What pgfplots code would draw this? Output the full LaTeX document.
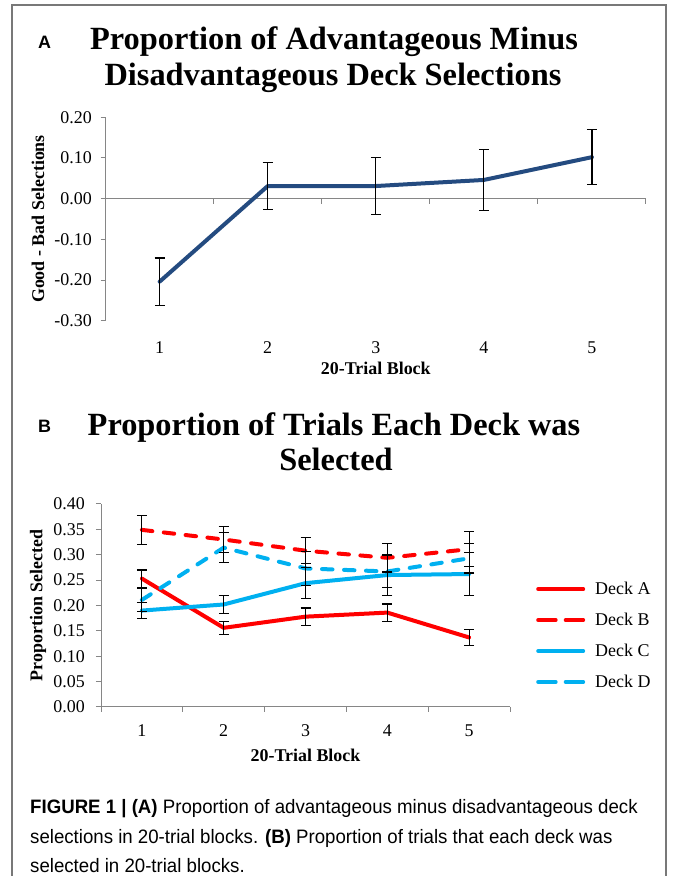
\documentclass[border=0pt]{standalone}
\usepackage{fontspec}
\setmainfont{Liberation Serif}
\newfontfamily\panelfont{Liberation Sans}
\newfontfamily\capfont[FakeStretch=0.96]{Liberation Sans}
\usepackage{pgfplots}
\pgfplotsset{compat=1.18}
\usepackage{pgfplotstable}

\definecolor{lineA}{RGB}{36,75,128}
\definecolor{dred}{RGB}{255,0,0}
\definecolor{dcyan}{RGB}{0,176,240}
\definecolor{framegray}{RGB}{120,120,120}
\definecolor{axgray}{RGB}{134,134,134}

\pgfplotstableread{
x y e
1 -0.204 0.058
2 0.031 0.057
3 0.031 0.070
4 0.046 0.075
5 0.102 0.068
}\dataA

\pgfplotstableread{
x a ea b eb c ec d ed
1 0.253 0.017 0.349 0.029 0.190 0.016 0.211 0.023
2 0.156 0.013 0.330 0.026 0.202 0.018 0.314 0.029
3 0.178 0.017 0.308 0.026 0.244 0.031 0.273 0.034
4 0.186 0.017 0.294 0.028 0.260 0.040 0.267 0.031
5 0.137 0.016 0.311 0.034 0.262 0.043 0.293 0.029
}\dataB

\pgfplotsset{
  common/.style={
    scale only axis,
    anchor=south west,
    xmin=0.5, xmax=5.5,
    axis y line*=left, axis x line*=bottom,
    y axis line style={axgray, line width=1bp},
    xtick={1,2,3,4,5}, xticklabels={1,2,3,4,5},
    xtick style={draw=none},
    ytick style={axgray, line width=1bp},
    tick align=outside,
    major tick length=5bp,
    tick label style={font=\fontsize{18}{20}\selectfont},
    xticklabel style={anchor=center, inner sep=0pt, yshift=-22bp},
    label style={font=\fontsize{18}{20}\selectfont\bfseries},
    clip=false,
  },
  ebar/.style={forget plot, draw=none, mark=none,
    error bars/.cd, y dir=both, y explicit,
    error bar style={draw=black, solid, line width=1.1bp},
    error mark=-,
    error mark options={draw=black, solid, line width=1.1bp, mark size=5bp, rotate=90}},
  solidleg/.style={legend image code/.code={\draw[##1] (2bp,0bp) -- (47bp,0bp); \path (52bp,0bp);}},
  dashleg/.style={legend image code/.code={\draw[##1, dash pattern=on 17.5bp off 10bp] (2bp,0bp) -- (47bp,0bp); \path (52bp,0bp);}},
}

\begin{document}
\begin{tikzpicture}
\useasboundingbox (0,0) rectangle (673bp,876bp);
% frame
\draw[framegray, line width=1.3bp] (12bp,-3bp) -- (12bp,871bp) -- (666bp,871bp) -- (666bp,-3bp);

% Panel A titles
\node[anchor=base west, inner sep=0pt] at (38bp,827.5bp) {\panelfont\bfseries\fontsize{18}{20}\selectfont A};
\node[anchor=base, inner sep=0pt] at (334bp,826bp) {\bfseries\fontsize{32.5}{36}\selectfont Proportion of Advantageous Minus};
\node[anchor=base, inner sep=0pt] at (333bp,790bp) {\bfseries\fontsize{32.5}{36}\selectfont Disadvantageous Deck Selections};

\begin{axis}[common,
  at={(105.6bp,555.3bp)},
  width=540.4bp, height=203.4bp,
  ymin=-0.3, ymax=0.2,
  x axis line style={draw=none},
  ytick={-0.3,-0.2,-0.1,0,0.1,0.2},
  yticklabels={-0.30,-0.20,-0.10,0.00,0.10,0.20},
  yticklabel style={anchor=east, inner sep=0pt, xshift=-8.6bp},
  xlabel={20-Trial Block},
  xlabel style={at={(axis description cs:0.5,-0.234)}, anchor=center, inner sep=0pt},
  ylabel={Good - Bad Selections},
  ylabel style={at={(axis description cs:-0.125,0.5)}, anchor=center, inner sep=0pt},
]
\draw[axgray, line width=1bp] (axis cs:0.5,0) -- (axis cs:5.5,0);
\draw[axgray, line width=1bp] (axis cs:1.5,0) -- ([yshift=-5bp]axis cs:1.5,0);
\draw[axgray, line width=1bp] (axis cs:2.5,0) -- ([yshift=-5bp]axis cs:2.5,0);
\draw[axgray, line width=1bp] (axis cs:3.5,0) -- ([yshift=-5bp]axis cs:3.5,0);
\draw[axgray, line width=1bp] (axis cs:4.5,0) -- ([yshift=-5bp]axis cs:4.5,0);
\draw[axgray, line width=1bp] (axis cs:5.5,0) -- ([yshift=-5bp]axis cs:5.5,0);
\addplot[lineA, line width=4bp, line cap=round, line join=round, mark=none] table[x=x, y=y] \dataA;
\addplot[ebar] table[x=x, y=y, y error=e] \dataA;
\end{axis}

% Panel B titles
\node[anchor=base west, inner sep=0pt] at (38bp,443bp) {\panelfont\bfseries\fontsize{18}{20}\selectfont B};
\node[anchor=base, inner sep=0pt] at (334bp,440bp) {\bfseries\fontsize{32.5}{36}\selectfont Proportion of Trials Each Deck was};
\node[anchor=base, inner sep=0pt] at (336bp,405bp) {\bfseries\fontsize{32.5}{36}\selectfont Selected};

\begin{axis}[common,
  at={(101bp,169bp)},
  width=409bp, height=203bp,
  ymin=0, ymax=0.4,
  x axis line style={axgray, line width=1bp},
  ytick={0,0.05,0.1,0.15,0.2,0.25,0.3,0.35,0.4},
  yticklabels={0.00,0.05,0.10,0.15,0.20,0.25,0.30,0.35,0.40},
  yticklabel style={anchor=east, inner sep=0pt, xshift=-11bp},
  xticklabel style={yshift=3bp},
  xlabel={20-Trial Block},
  xlabel style={at={(axis description cs:0.5,-0.24)}, anchor=center, inner sep=0pt},
  ylabel={Proportion Selected},
  ylabel style={at={(axis description cs:-0.154,0.5)}, anchor=center, inner sep=0pt},
  legend style={at={(1,0.352)}, anchor=west, xshift=26bp, draw=none, fill=none,
    font=\fontsize{18}{20}\selectfont, row sep=13bp, inner sep=0pt,
    nodes={inner xsep=5bp, inner ysep=2bp}},
  legend cell align=left,
  solidleg,
]
\draw[axgray, line width=1bp] (axis cs:0.5,0) -- ([yshift=-5bp]axis cs:0.5,0);
\draw[axgray, line width=1bp] (axis cs:1.5,0) -- ([yshift=-5bp]axis cs:1.5,0);
\draw[axgray, line width=1bp] (axis cs:2.5,0) -- ([yshift=-5bp]axis cs:2.5,0);
\draw[axgray, line width=1bp] (axis cs:3.5,0) -- ([yshift=-5bp]axis cs:3.5,0);
\draw[axgray, line width=1bp] (axis cs:4.5,0) -- ([yshift=-5bp]axis cs:4.5,0);
\draw[axgray, line width=1bp] (axis cs:5.5,0) -- ([yshift=-5bp]axis cs:5.5,0);
\addplot[dred, line width=4bp, line cap=round, line join=round, mark=none] table[x=x, y=a] \dataB;
\addlegendentry{Deck A}
\addplot[dred, line width=4bp, line cap=round, line join=round, mark=none, dash pattern=on 10.5bp off 11.5bp, dashleg] table[x=x, y=b] \dataB;
\addlegendentry{Deck B}
\addplot[dcyan, line width=4bp, line cap=round, line join=round, mark=none] table[x=x, y=c] \dataB;
\addlegendentry{Deck C}
\addplot[dcyan, line width=4bp, line cap=round, line join=round, mark=none, dash pattern=on 10.5bp off 11.5bp, dashleg] table[x=x, y=d] \dataB;
\addlegendentry{Deck D}
\addplot[ebar] table[x=x, y=a, y error=ea] \dataB;
\addplot[ebar] table[x=x, y=b, y error=eb] \dataB;
\addplot[ebar] table[x=x, y=c, y error=ec] \dataB;
\addplot[ebar] table[x=x, y=d, y error=ed] \dataB;
\end{axis}

% caption
\node[anchor=base west, inner sep=0pt] at (30bp,62bp) {\capfont\fontsize{19.5}{22}\selectfont \textbf{FIGURE 1 | (A)} Proportion of advantageous minus disadvantageous deck};
\node[anchor=base west, inner sep=0pt] at (30bp,33bp) {\capfont\fontsize{19.5}{22}\selectfont selections in 20-trial blocks. \textbf{(B)} Proportion of trials that each deck was};
\node[anchor=base west, inner sep=0pt] at (30bp,4bp) {\capfont\fontsize{19.5}{22}\selectfont selected in 20-trial blocks.};
\end{tikzpicture}
\end{document}
